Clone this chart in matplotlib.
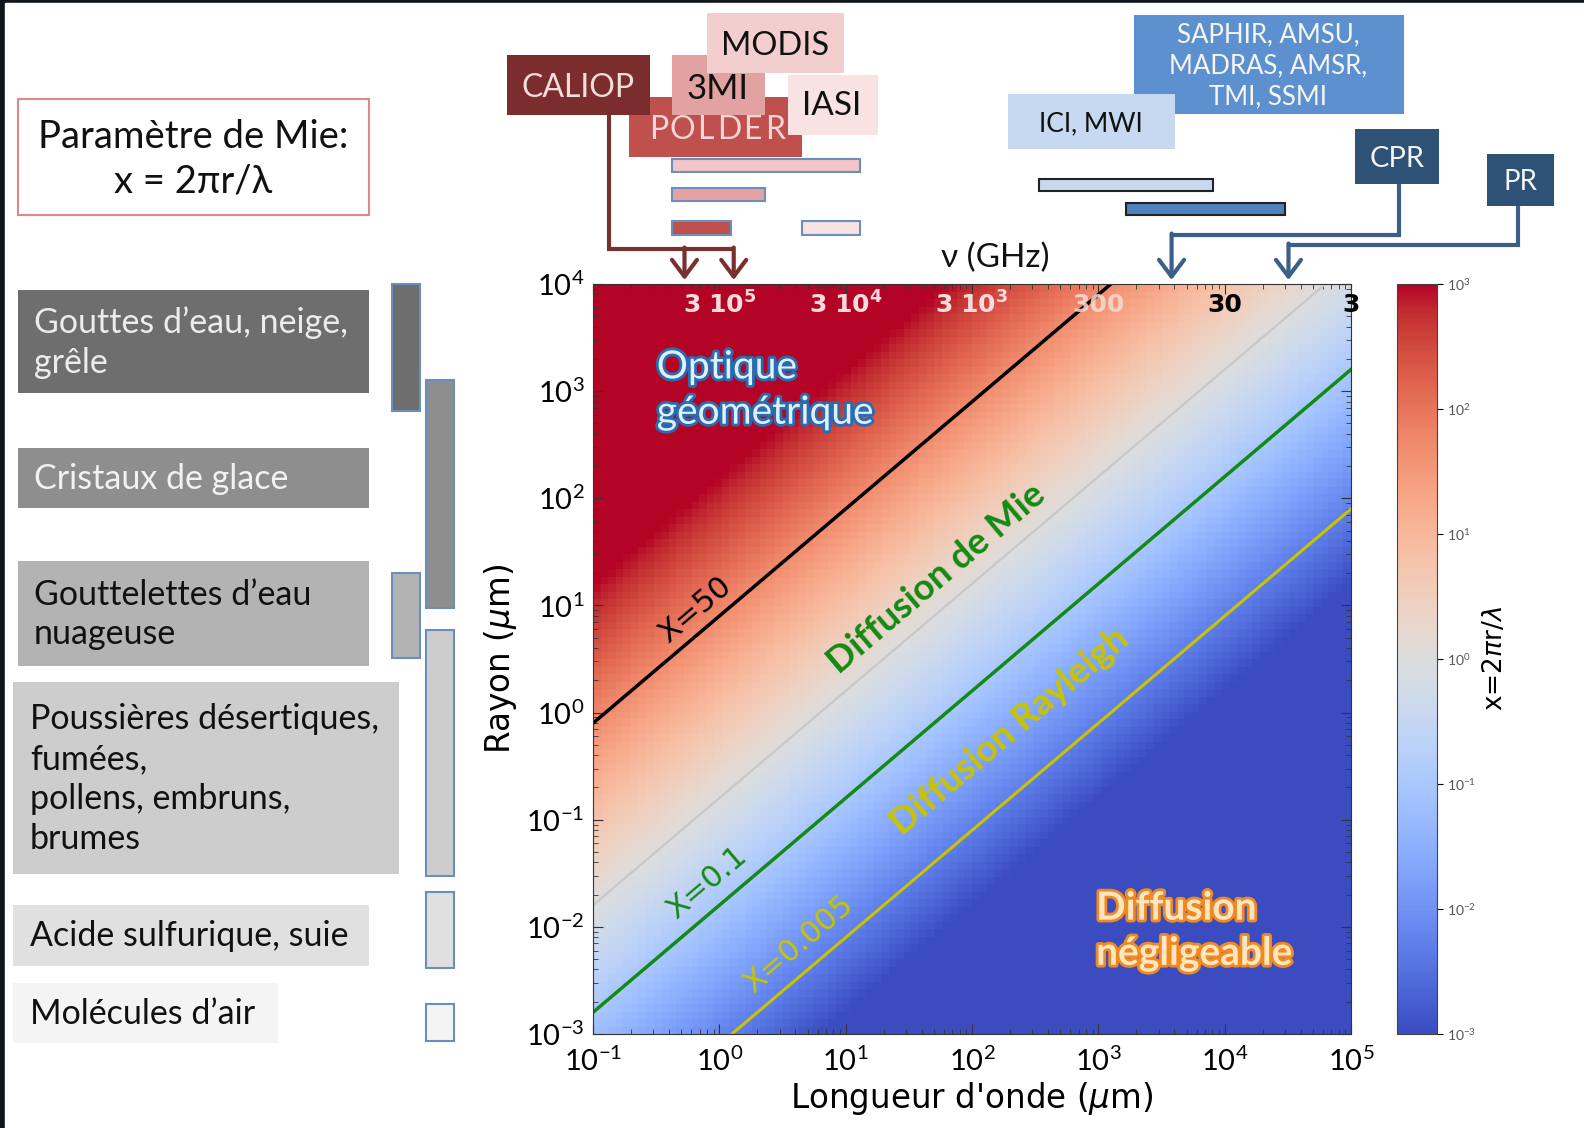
import numpy as np
import matplotlib
matplotlib.use('Agg')
import matplotlib.pyplot as plt
from matplotlib.colors import LogNorm
from matplotlib.patches import Rectangle
import matplotlib.patheffects as pe

plt.rcParams['font.family'] = ['Lato', 'DejaVu Sans']

# ---- data -------------------------------------------------------------
lam_lim = (1e-1, 1e5)      # longueur d'onde (um)
r_lim = (1e-3, 1e4)        # rayon (um)

x_levels = [50, 1, 0.1, 0.005]

freq_lam = [1, 10, 100, 1e3, 1e4, 1e5]
freq_text = [r'$\mathbf{3\ 10^5}$', r'$\mathbf{3\ 10^4}$', r'$\mathbf{3\ 10^3}$',
             '300', '30', '3']

particles = ['Gouttes d’eau, neige,\ngrêle', 'Cristaux de glace',
             'Gouttelettes d’eau\nnuageuse',
             'Poussières désertiques,\nfumées,\npollens, embruns,\nbrumes',
             'Acide sulfurique, suie', 'Molécules d’air']
part_r_lo = [650, 9.4, 3.2, 0.03, 0.0041, 0.00086]
part_r_hi = [1e4, 1260, 20, 5.9, 0.021, 0.0019]
part_col = [0, 1, 0, 1, 1, 1]

instruments = ['MODIS', '3MI', 'POLDER', 'IASI', 'ICI, MWI',
               'SAPHIR, AMSU,\nMADRAS, AMSR,\nTMI, SSMI']
instr_lam_lo = [0.42, 0.42, 0.42, 4.5, 340, 1660]
instr_lam_hi = [13.1, 2.3, 1.23, 13.1, 8100, 30000]

caliop_lam = [0.53, 1.3]
cpr_lam = 3800
pr_lam = 32000

# ---- figure -----------------------------------------------------------
W, H = 1584, 1128
fig = plt.figure(figsize=(W / 100, H / 100), dpi=100)
fig.patch.set_facecolor('#10151c')
fig.add_artist(Rectangle((5 / W, 0), 1, (H - 3) / H, transform=fig.transFigure,
                         color='white', zorder=-10))

def frac(x0, y0, x1, y1):
    return [x0 / W, (H - y1) / H, (x1 - x0) / W, (y1 - y0) / H]

AX_L, AX_R, AX_T, AX_B = 593, 1351, 284, 1034
ax = fig.add_axes(frac(AX_L, AX_T, AX_R, AX_B))
cax = fig.add_axes(frac(1397, AX_T, 1437, AX_B))

lam_e = np.logspace(-1, 5, 101)
r_e = np.logspace(-3, 4, 101)
lam_c = np.sqrt(lam_e[:-1] * lam_e[1:])
r_c = np.sqrt(r_e[:-1] * r_e[1:])
X = 2 * np.pi * r_c[:, None] / lam_c[None, :]

mesh = ax.pcolormesh(lam_e, r_e, X, cmap='coolwarm',
                     norm=LogNorm(1e-3, 1e3), shading='flat')
ax.set_xscale('log')
ax.set_yscale('log')
ax.set_xlim(*lam_lim)
ax.set_ylim(*r_lim)

lam_line = np.logspace(-1, 5, 200)
line_colors = ['black', '#c8c8c8', '#138a13', '#c8c400']
line_widths = [2.5, 1.6, 2.5, 2.2]
for lv, c, lw in zip(x_levels, line_colors, line_widths):
    ax.plot(lam_line, lv * lam_line / (2 * np.pi), color=c, lw=lw)

ax.tick_params(which='both', direction='in', top=True, right=True,
               colors='#333333', labelcolor='black')
ax.tick_params(which='major', length=7, labelsize=21)
ax.tick_params(axis='x', which='major', pad=9)
ax.tick_params(axis='y', which='major', pad=6)
ax.tick_params(which='minor', length=3.5)
for s in ax.spines.values():
    s.set_color('#333333')
ax.set_xlabel('Longueur d\'onde ($\\mu$m)', fontsize=23.5, family='DejaVu Sans',
              labelpad=3)
ax.set_ylabel('Rayon ($\\mu$m)', fontsize=23.5, family='DejaVu Sans', labelpad=5)

# frequency labels
freq_colors = ['#f8dcdc', '#f8dcdc', '#f8dcdc', '#f6dcd4', 'black', 'black']
for lm, t, c in zip(freq_lam, freq_text, freq_colors):
    ax.text(lm, 10 ** 3.8, t, color=c, fontsize=18, fontweight='bold',
            family='DejaVu Sans', ha='center', va='center',
            alpha=0.85 if t == '300' else 1)

ROT = 40.3
ax.text(0.64, 9.0, 'X=50', rotation=ROT, fontsize=22, color='black',
        ha='center', va='center', family='DejaVu Sans')
ax.text(0.80, 0.026, 'X=0.1', rotation=ROT, fontsize=22, color='#138a13',
        ha='center', va='center', family='DejaVu Sans')
ax.text(4.2, 0.0068, 'X=0.005', rotation=ROT, fontsize=22, color='#c8c400',
        ha='center', va='center', family='DejaVu Sans')
ax.text(52, 18, 'Diffusion de Mie', rotation=ROT, fontsize=26.5,
        fontweight='bold', color='#138a13', ha='center', va='center')
ax.text(200, 0.67, 'Diffusion Rayleigh', rotation=ROT, fontsize=26.5,
        fontweight='bold', color='#c8c400', ha='center', va='center')
ax.text(0.32, 10 ** 3.01, 'Optique\ngéométrique', fontsize=28,
        color='#e0f0ff', ha='left', va='center', linespacing=1.32,
        path_effects=[pe.withStroke(linewidth=4, foreground='#2a6cb0')])
ax.text(960, 0.0092, 'Diffusion\nnégligeable', fontsize=28, fontweight='bold',
        color='#ffe6c0', ha='left', va='center', linespacing=1.35,
        path_effects=[pe.withStroke(linewidth=4, foreground='#f08a20')])

cb = fig.colorbar(mesh, cax=cax)
cb.ax.minorticks_off()
cb.ax.tick_params(labelsize=10, labelcolor='#555555', length=4)
cb.outline.set_edgecolor('#444444')
cb.set_label('x=2$\\pi$r/$\\lambda$', fontsize=19, labelpad=4,
             family='DejaVu Sans')

# ---- instrument bars (wavelength ranges) -----------------------------
band = fig.add_axes(frac(AX_L, 0, AX_R, AX_T), sharex=ax)
band.set_ylim(AX_T, 0)
band.axis('off')
bar_rows = [165.5, 194.5, 228, 228, 185, 209]
bar_h = [13, 13, 14, 14, 12, 12]
bar_fill = ['#f2c6c6', '#e6a2a2', '#c0504d', '#f8e2e2', '#c6d9f0', '#4f81bd']
bar_edge = ['#6a8fbf'] * 4 + ['#222222'] * 2
for lo, hi, y, h, fc, ec in zip(instr_lam_lo, instr_lam_hi, bar_rows, bar_h,
                                bar_fill, bar_edge):
    band.barh(y, hi - lo, left=lo, height=h, color=fc, edgecolor=ec,
              linewidth=1.5, clip_on=False)

# ---- particle size bars ------------------------------------------------
sz = fig.add_axes(frac(392, AX_T, 454, AX_B), sharey=ax)
sz.set_xlim(392, 454)
sz.axis('off')
col_x = [406, 440]
part_fill = ['#6e6e6e', '#8e8e8e', '#b3b3b3', '#cdcdcd', '#e0e0e0', '#f4f4f4']
for lo, hi, c, fc in zip(part_r_lo, part_r_hi, part_col, part_fill):
    sz.bar(col_x[c], hi - lo, bottom=lo, width=28, color=fc,
           edgecolor='#6a8fbf', linewidth=1.5, clip_on=False)

# ---- slide decorations (pixel coordinates) ---------------------------
deco = fig.add_axes([0, 0, 1, 1], zorder=5)
deco.set_xlim(0, W)
deco.set_ylim(H, 0)
deco.axis('off')

def box(x0, y0, x1, y1, fc, ec=None, lw=0):
    deco.add_patch(Rectangle((x0, y0), x1 - x0, y1 - y0, facecolor=fc,
                             edgecolor=ec if ec else fc, linewidth=lw))

box(18, 99, 369, 215, 'white', '#e08888', 1.5)
deco.text(193, 159, 'Paramètre de Mie:\nx = 2πr/λ', fontsize=27.5, ha='center',
          va='center', linespacing=1.3, color='#111111')

part_boxes = [(18, 290, 369, 393), (18, 448, 369, 508), (18, 561, 369, 666),
              (13, 682, 399, 874), (13, 905, 369, 966), (13, 983, 278, 1043)]
part_text_x = [34, 34, 34, 30, 30, 30]
part_text_col = ['#ececec', '#f2f2f2', '#111111', '#111111', '#111111', '#111111']
for name, (x0, y0, x1, y1), tx, tc, fc in zip(particles, part_boxes, part_text_x,
                                              part_text_col, part_fill):
    box(x0, y0, x1, y1, fc)
    deco.text(tx, (y0 + y1) / 2 + 1, name, fontsize=24.5, ha='left', va='center',
              color=tc, linespacing=1.3)

# instrument label boxes
box(629, 97, 802, 157, '#c0504d')
for i, ch in enumerate('POLDER'):
    deco.text(659 + 23.3 * i, 130, ch, fontsize=23, ha='center', va='center',
              color='#f4d6d6')
box(507, 55, 650, 115, '#7b2c2c')
deco.text(578, 88, 'CALIOP', fontsize=23, ha='center', va='center',
          color='#f2dcdc')
box(672, 55, 765, 115, '#e2a2a2')
deco.text(717, 89, '3MI', fontsize=25, ha='center', va='center', color='#111111')
box(707, 13, 844, 73, '#f2cece')
deco.text(775, 46, 'MODIS', fontsize=23.5, ha='center', va='center', color='#111111')
box(788, 75, 878, 135, '#f8e2e2')
deco.text(832, 106, 'IASI', fontsize=24, ha='center', va='center', color='#111111')

box(1134, 15, 1404, 114, '#5d90cf')
deco.text(1268, 66, instruments[5], fontsize=18.5, ha='center', va='center',
          color='#f6f6f6', linespacing=1.3)
box(1008, 94, 1175, 149, '#c6d9f1')
deco.text(1091, 124, instruments[4], fontsize=19, ha='center', va='center',
          color='#111111')
box(1355, 129, 1439, 184, '#2e5276')
deco.text(1397, 159, 'CPR', fontsize=21, ha='center', va='center', color='#f4f4f4')
box(1487, 154, 1554, 206, '#2e5276')
deco.text(1520, 182, 'PR', fontsize=20, ha='center', va='center', color='#f4f4f4')

deco.text(995, 258, 'ν (GHz)', fontsize=24, ha='center', va='center',
          color='#111111')

# arrows towards the wavelength axis
def to_px(lam):
    return ax.transData.transform((lam, 1.0))[0]

def elbow(x_start, y_start, y_turn, tips, color):
    xs = [to_px(t) for t in tips]
    x_far = xs[-1] if abs(xs[-1] - x_start) > abs(xs[0] - x_start) else xs[0]
    deco.plot([x_start, x_start, x_far], [y_start, y_turn, y_turn], color=color,
              lw=3, solid_joinstyle='miter', solid_capstyle='butt')
    for x in xs:
        deco.annotate('', xy=(x, AX_T - 4), xytext=(x, y_turn - 1.5),
                      arrowprops=dict(arrowstyle='->,head_length=0.6,head_width=0.45',
                                      color=color, lw=3, mutation_scale=20,
                                      shrinkA=0, shrinkB=0))

elbow(609, 115, 249, caliop_lam, '#7b3030')
elbow(1399, 184, 235, [cpr_lam], '#3b5f8a')
elbow(1518, 206, 245, [pr_lam], '#3b5f8a')

fig.savefig('out.png', dpi=100)
